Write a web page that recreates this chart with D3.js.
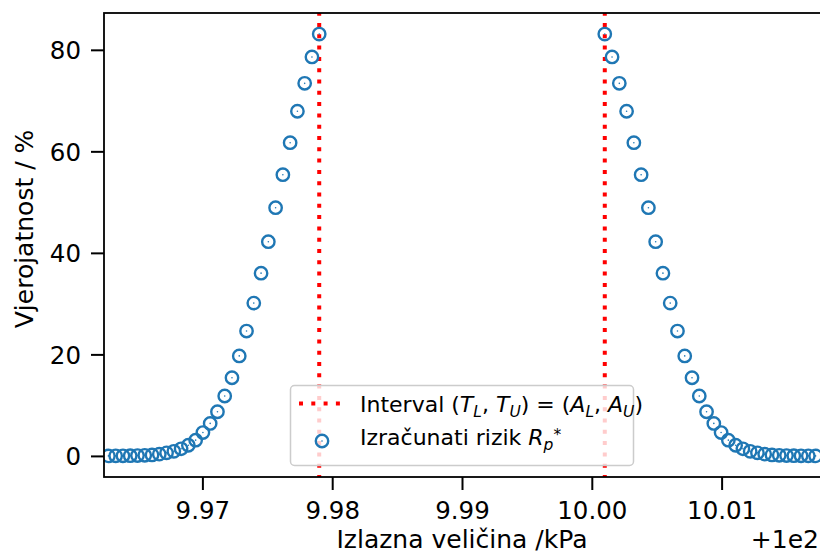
<!DOCTYPE html>
<html><head><meta charset="utf-8">
<script src="https://cdn.jsdelivr.net/npm/d3@7"></script>
<style>body{margin:0;background:#fff}svg{display:block;font-family:"DejaVu Sans",sans-serif}</style>
</head><body><div id="chart"></div>
<script>
// x values are shown relative to an offset of +1e2
const xOffsetLabel = "+1e2";
const leftX = [9.96276, 9.96332, 9.96388, 9.96444, 9.96500, 9.96556, 9.96612, 9.96668, 9.96724, 9.96780,
               9.96836, 9.96892, 9.96948, 9.97004, 9.97060, 9.97116, 9.97172, 9.97228, 9.97284, 9.97340,
               9.97396, 9.97452, 9.97508, 9.97564, 9.97620, 9.97676, 9.97732, 9.97788, 9.97844, 9.97900];
const leftY = [0.0, 0.01, 0.02, 0.04, 0.07, 0.12, 0.2, 0.35, 0.6, 0.9,
               1.4, 2.1, 3.1, 4.6, 6.4, 8.7, 11.8, 15.4, 19.7, 24.6,
               30.1, 36.0, 42.2, 48.9, 55.4, 61.7, 67.9, 73.4, 78.6, 83.1];
const rightX = [10.00100, 10.00156, 10.00212, 10.00268, 10.00324, 10.00380, 10.00436, 10.00492, 10.00548, 10.00604,
                10.00660, 10.00716, 10.00772, 10.00828, 10.00884, 10.00940, 10.00996, 10.01052, 10.01108, 10.01164,
                10.01220, 10.01276, 10.01332, 10.01388, 10.01444, 10.01500, 10.01556, 10.01612, 10.01668, 10.01724];
const rightY = [83.1, 78.6, 73.4, 67.9, 61.7, 55.4, 48.9, 42.2, 36.0, 30.1,
                24.6, 19.7, 15.4, 11.8, 8.7, 6.4, 4.6, 3.1, 2.1, 1.4,
                0.9, 0.6, 0.35, 0.2, 0.12, 0.07, 0.04, 0.02, 0.01, 0.0];
const intervalX = [9.979, 10.001];
const xTicks = [9.97, 9.98, 9.99, 10.00, 10.01];
const yTicks = [0, 20, 40, 60, 80];
const xLabel = "Izlazna veličina /kPa";
const yLabel = "Vjerojatnost / %";

const W = 820, H = 555;
const m = {left: 104, right: 820, top: 13, bottom: 477};
const x = d3.scaleLinear().domain([9.96242, 10.01758]).range([m.left, m.right]);
const y = d3.scaleLinear().domain([-4.155, 87.255]).range([m.bottom, m.top]);

const svg = d3.select("#chart").append("svg").attr("width", W).attr("height", H);
svg.append("defs").append("clipPath").attr("id", "clip")
  .append("rect").attr("x", m.left).attr("y", m.top).attr("width", m.right - m.left).attr("height", m.bottom - m.top);

const plot = svg.append("g").attr("clip-path", "url(#clip)");
const red = "#ff0000", blue = "#1f77b4";
const R = 6.2, SW = 2.4;

// interval lines
plot.selectAll("line.iv").data(intervalX).enter().append("line")
  .attr("x1", d => x(d)).attr("x2", d => x(d)).attr("y1", m.bottom).attr("y2", m.top)
  .attr("stroke", red).attr("stroke-width", 4).attr("stroke-dasharray", "4,7.3").attr("stroke-dashoffset", 2);

const pts = leftX.map((v, i) => [v, leftY[i]]).concat(rightX.map((v, i) => [v, rightY[i]]));
plot.selectAll("circle.pt").data(pts).enter().append("circle")
  .attr("cx", d => x(d[0])).attr("cy", d => y(d[1])).attr("r", R)
  .attr("fill", "none").attr("stroke", blue).attr("stroke-width", SW);
plot.selectAll("circle.dot").data(pts).enter().append("circle")
  .attr("cx", d => x(d[0])).attr("cy", d => y(d[1])).attr("r", 0.8).attr("fill", blue);

// axes
const fs = 24.5;
const xAxis = svg.append("g").attr("transform", `translate(0,${m.bottom})`)
  .call(d3.axisBottom(x).tickValues(xTicks).tickFormat(d3.format(".2f")).tickSize(13).tickPadding(10).tickSizeOuter(0));
const yAxis = svg.append("g").attr("transform", `translate(${m.left},0)`)
  .call(d3.axisLeft(y).tickValues(yTicks).tickFormat(d3.format("d")).tickSize(13).tickPadding(10).tickSizeOuter(0));
[xAxis, yAxis].forEach(g => {
  g.select(".domain").remove();
  g.selectAll(".tick line").attr("stroke", "#000").attr("stroke-width", 2);
  g.selectAll(".tick text").attr("fill", "#000").style("font-size", fs + "px").style("font-family", "DejaVu Sans");
});
xAxis.selectAll(".tick text").attr("dy", "0.78em");
yAxis.selectAll(".tick text").attr("dy", "0.36em");

// spines
svg.append("rect").attr("x", m.left).attr("y", m.top).attr("width", m.right - m.left + 1).attr("height", m.bottom - m.top)
  .attr("fill", "none").attr("stroke", "#000").attr("stroke-width", 1.8);

// labels
svg.append("text").attr("x", (m.left + 820) / 2).attr("y", 548).attr("text-anchor", "middle")
  .style("font-size", "25px").text(xLabel);
svg.append("text").attr("x", 819).attr("y", 548).attr("text-anchor", "end")
  .style("font-size", "25px").text(xOffsetLabel);
svg.append("text").attr("transform", "translate(33,229) rotate(-90)").attr("text-anchor", "middle")
  .style("font-size", "25px").text(yLabel);

// legend
const lg = svg.append("g");
lg.append("rect").attr("x", 290.5).attr("y", 385.5).attr("width", 343).attr("height", 80).attr("rx", 4)
  .attr("fill", "#fff").attr("fill-opacity", 0.8).attr("stroke", "#cccccc").attr("stroke-width", 1.5);
lg.append("line").attr("x1", 299).attr("x2", 342).attr("y1", 403.5).attr("y2", 403.5)
  .attr("stroke", red).attr("stroke-width", 4).attr("stroke-dasharray", "4,8.3");
lg.append("circle").attr("cx", 322).attr("cy", 441).attr("r", R).attr("fill", "none").attr("stroke", blue).attr("stroke-width", SW);
lg.append("circle").attr("cx", 322).attr("cy", 441).attr("r", 0.8).attr("fill", blue);

function richText(g, xx, yy, parts) {
  const t = g.append("text").attr("x", xx).attr("y", yy).style("font-size", "22px");
  parts.forEach(p => {
    const s = t.append("tspan").text(p.t);
    if (p.i) s.style("font-style", "italic");
    if (p.sub) s.style("font-size", "15.5px").attr("dy", 5);
    if (p.sup) s.style("font-size", "15.5px").attr("dy", -10);
    if (p.back) s.attr("dy", p.back);
  });
}
richText(lg, 360, 412, [
  {t: "Interval ("}, {t: "T", i: 1}, {t: "L", i: 1, sub: 1}, {t: ", ", back: -5}, {t: "T", i: 1}, {t: "U", i: 1, sub: 1},
  {t: ") = (", back: -5}, {t: "A", i: 1}, {t: "L", i: 1, sub: 1}, {t: ", ", back: -5}, {t: "A", i: 1}, {t: "U", i: 1, sub: 1}, {t: ")", back: -5}
]);
richText(lg, 360, 445, [
  {t: "Izračunati rizik "}, {t: "R", i: 1}, {t: "p", i: 1, sub: 1}, {t: "*", sup: 1}
]);
</script></body></html>
